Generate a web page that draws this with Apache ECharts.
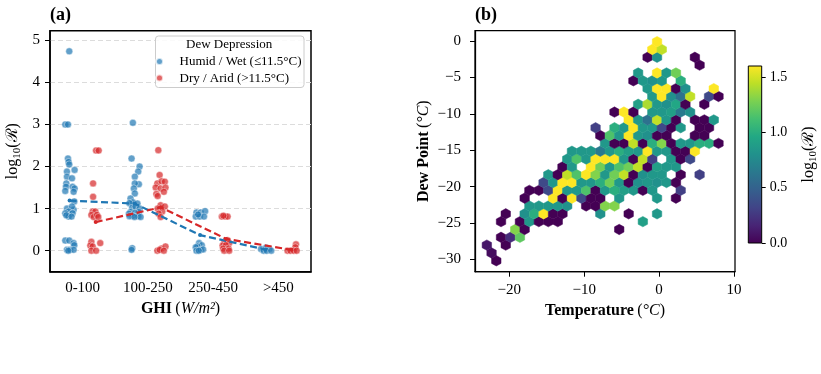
<!DOCTYPE html>
<html><head><meta charset="utf-8">
<script src="https://cdn.jsdelivr.net/npm/echarts@6/dist/echarts.min.js"></script>
<style>html,body{margin:0;padding:0;background:#fff}#c{width:821px;height:374px}</style>
</head><body><div id="c"></div>
<script>
// ---------- Panel (a): strip plot data ----------
const ghiCategories = ['0-100', '100-250', '250-450', '>450'];
const legendNames = ['Humid / Wet (\u226411.5\u00B0C)', 'Dry / Arid (>11.5\u00B0C)'];
// [position in category units (dodge + jitter), log10(R)]
const humidPoints = [
  [-0.205,4.74],[-0.266,3.0],[-0.225,3.0],[-0.225,2.19],[-0.215,2.11],[-0.205,2.05],
  [-0.24,1.88],[-0.123,1.92],[-0.24,1.76],[-0.163,1.72],[-0.25,1.6],[-0.255,1.52],
  [-0.154,1.52],[-0.123,1.48],[-0.266,1.42],[-0.138,1.4],[-0.128,1.17],[-0.138,0.97],
  [-0.24,1.0],[-0.163,1.05],[-0.215,0.93],[-0.266,0.89],[-0.154,0.89],[-0.215,0.81],
  [-0.25,0.84],[-0.17,0.81],[-0.266,0.24],[-0.205,0.24],[-0.138,0.18],[-0.128,0.13],
  [-0.24,0.02],[-0.19,0.02],[-0.138,0.02],[-0.22,0.0],
  [0.77,3.04],[0.75,2.19],[0.873,2.0],[0.852,1.88],[0.8,1.76],[0.862,1.58],[0.8,1.6],
  [0.785,1.48],[0.8,1.36],[0.734,1.24],[0.77,1.15],[0.718,1.13],[0.84,1.12],[0.76,1.02],
  [0.81,1.05],[0.873,1.0],[0.734,0.92],[0.862,0.92],[0.8,0.9],[0.71,0.88],[0.765,0.83],
  [0.852,0.82],[0.718,0.82],[0.888,0.8],[0.795,0.8],[0.76,0.06],[0.75,0.02],
  [1.745,0.91],[1.81,0.91],[1.877,0.94],[1.734,0.81],[1.795,0.81],[1.86,0.81],[1.77,0.86],
  [1.785,0.18],[1.826,0.13],[1.76,0.1],[1.734,0.08],[1.745,0.0],[1.81,0.02],[1.846,0.03],[1.78,0.0],
  [2.734,0.04],[2.81,0.07],[2.862,0.04],[2.775,0.0],[2.82,0.0],[2.89,0.0]
];
const dryPoints = [
  [0.206,2.38],[0.246,2.38],[0.16,1.6],[0.16,1.28],[0.154,0.93],[0.195,0.93],[0.134,0.85],
  [0.17,0.8],[0.22,0.85],[0.24,0.8],[0.134,0.21],[0.27,0.18],[0.118,0.12],[0.154,0.1],
  [0.134,0.0],[0.206,0.0],
  [1.16,2.39],[1.18,1.8],[1.145,1.6],[1.21,1.65],[1.26,1.64],[1.12,1.5],[1.195,1.48],
  [1.27,1.5],[1.13,1.35],[1.245,1.4],[1.15,1.3],[1.195,1.08],[1.26,1.05],[1.15,1.0],
  [1.22,0.93],[1.165,0.88],[1.195,0.8],[1.145,0.0],[1.21,0.05],[1.27,0.1],[1.18,0.02],[1.245,0.0],
  [2.134,0.81],[2.185,0.81],[2.222,0.81],[2.157,0.83],[2.222,0.25],[2.17,0.18],[2.246,0.18],
  [2.145,0.12],[2.195,0.13],[2.154,0.05],[2.237,0.05],[2.17,0.0],[2.246,0.0],
  [3.27,0.15],[3.26,0.08],[3.14,0.0],[3.185,0.0],[3.236,0.0],[3.28,0.0]
];
const humidMean = [[-0.2,1.19],[0.8,1.12],[1.8,0.37],[2.8,0.03]];
const dryMean = [[0.2,0.68],[1.2,1.03],[2.2,0.28],[3.2,0.02]];
const leftYTicks = [0,1,2,3,4,5];

// ---------- Panel (b): hexbin data ----------
const tempTicks = [-20,-10,0,10];
const dewTicks = [-30,-25,-20,-15,-10,-5,0];
const cbarTicks = [0,0.5,1.0,1.5];
const hexOrigin = [-22.99, -30.2];   // lattice origin (Temperature, Dew Point)
const hexCell = [1.262, 2.151];      // hexbin cell size sx, sy (gridsize 25)
// [half-column index, half-row index, log10(R)]
const hexBins = [
  [2,0,0],[1,1,0.05],[0,2,0.1],[4,2,0],[3,3,0],[5,3,0.2],[7,3,1.2],
  [6,4,1.3],[8,4,0],[28,4,0],
  [3,5,0],[7,5,0],[9,5,0.85],[11,5,0],[13,5,0],[15,5,0],[33,5,0.9],
  [4,6,0],[8,6,0.8],[10,6,1.0],[12,6,1.6],[14,6,0],[16,6,0],[24,6,0.8],[30,6,0],[36,6,0.85],
  [9,7,0.85],[11,7,0.85],[13,7,0.85],[15,7,0.85],[17,7,0.8],[21,7,0],[23,7,0],[25,7,1.3],[27,7,1.3],
  [8,8,0],[14,8,1.6],[16,8,0],[18,8,1.6],[20,8,0.35],[22,8,0],[24,8,0],[28,8,0.85],[36,8,0.85],[40,8,0],
  [9,9,0],[11,9,0],[13,9,0.35],[15,9,1.6],[17,9,0.85],[19,9,0.85],[21,9,1.15],[23,9,0],[25,9,0.85],
  [27,9,1.0],[29,9,0.9],[31,9,0.85],[33,9,0],[35,9,0.85],[41,9,0.3],
  [12,10,0.35],[14,10,0.85],[16,10,1.6],[18,10,1.6],[20,10,0.85],[22,10,0.85],[24,10,1.0],[26,10,1.25],
  [28,10,0.85],[30,10,0],[32,10,0.8],[34,10,0.85],[36,10,0.8],[38,10,0.85],[40,10,0],
  [13,11,0.85],[15,11,0],[17,11,1.45],[19,11,1.15],[21,11,1.6],[23,11,1.3],[25,11,0.85],[27,11,1.25],
  [29,11,1.45],[31,11,0],[33,11,0.8],[35,11,0.85],[37,11,0.85],[41,11,0],[45,11,0.3],
  [16,12,0],[18,12,0.85],[22,12,1.6],[24,12,1.25],[26,12,0.85],[28,12,1.15],[30,12,1.25],[32,12,1.45],
  [34,12,0],[36,12,0.9],[38,12,0.85],[40,12,0.85],
  [17,13,0.85],[19,13,1.15],[21,13,0.85],[23,13,1.6],[25,13,1.6],[27,13,1.6],[29,13,0.85],[31,13,0],
  [33,13,1.45],[35,13,0.3],[39,13,0.85],[41,13,0],[43,13,0.35],
  [18,14,0.85],[20,14,0.85],[22,14,0.85],[24,14,0.65],[26,14,0.85],[28,14,1.0],[30,14,0.9],[32,14,0.85],
  [34,14,1.6],[36,14,0.85],[38,14,0.85],[40,14,0],[42,14,0],[44,14,1.6],
  [25,15,0.85],[27,15,0],[29,15,0],[31,15,1.45],[33,15,0],[35,15,1.0],[37,15,1.3],[39,15,0],[41,15,0.85],
  [43,15,0.85],[45,15,1.0],[47,15,1.0],[49,15,0],
  [24,16,0],[26,16,1.15],[28,16,0.85],[30,16,1.6],[32,16,0.85],[34,16,0.8],[36,16,0],[38,16,0],[44,16,0],[46,16,0],
  [23,17,0.3],[27,17,1.0],[29,17,0.85],[31,17,1.6],[33,17,0.85],[35,17,0.85],[37,17,0.35],[39,17,0],
  [41,17,0.85],[45,17,0],[47,17,0],
  [30,18,1.6],[32,18,0.85],[34,18,0.6],[36,18,1.45],[38,18,0.85],[40,18,0],[44,18,0],[46,18,0],[48,18,0.85],
  [27,19,0],[29,19,1.6],[31,19,0],[35,19,0.85],[37,19,0.85],[39,19,0.9],[41,19,0.65],[43,19,0.8],
  [32,20,0.9],[34,20,1.4],[36,20,0.85],[38,20,0.8],[40,20,0.95],[42,20,0],[46,20,0],
  [35,21,0.85],[37,21,1.6],[39,21,0.8],[41,21,0.6],[43,21,1.45],[47,21,0.35],[49,21,0],
  [34,22,0.85],[36,22,1.6],[38,22,1.6],[40,22,0],[42,22,0.8],[48,22,1.6],
  [31,23,0],[33,23,0.85],[35,23,0.8],[37,23,0.85],[41,23,1.0],
  [32,24,0.85],[36,24,1.6],[38,24,0.85],[40,24,1.25],
  [45,25,0],[34,26,0],[36,26,0.8],[44,26,0],[35,27,1.6],[37,27,1.45],[36,28,1.6]
];
const viridis = ['#440154','#482475','#414487','#355f8d','#2a788e','#21918c','#22a884','#44bf70','#7ad151','#bddf26','#fde725'];

// ---------- Chart ----------
const SERIF = '"Liberation Serif","Times New Roman",Times,serif';
const chart = echarts.init(document.getElementById('c'), null, {renderer: 'canvas'});
const tickStyle = {color: '#000', width: 1};
const labelStyle = {fontFamily: SERIF, fontSize: 15, color: '#000'};
const logRich = {
  a: {fontFamily: SERIF, fontSize: 16, color: '#000', lineHeight: 20},
  s: {fontFamily: SERIF, fontSize: 11, color: '#000', lineHeight: 12, verticalAlign: 'bottom'}
};
const nameRich = {
  b: {fontFamily: SERIF, fontSize: 16, fontWeight: 'bold', color: '#000'},
  n: {fontFamily: SERIF, fontSize: 16, color: '#000'},
  i: {fontFamily: SERIF, fontSize: 16, fontStyle: 'italic', color: '#000'}
};

const hexData = hexBins.map(b => [hexOrigin[0] + b[0] * hexCell[0] / 2, hexOrigin[1] + b[1] * hexCell[1] / 2, b[2]]);

const option = {
  animation: false,
  backgroundColor: '#fff',
  title: [
    {text: '(a)', left: 50, top: 6, padding: 0, textStyle: {fontFamily: SERIF, fontSize: 18, fontWeight: 'bold', color: '#000'}},
    {text: '(b)', left: 475, top: 6, padding: 0, textStyle: {fontFamily: SERIF, fontSize: 18, fontWeight: 'bold', color: '#000'}}
  ],
  grid: [
    {left: 50, top: 30.7, width: 261, height: 241, show: true, borderColor: '#000', borderWidth: 1.5, backgroundColor: 'transparent'},
    {left: 475, top: 30.7, width: 260, height: 241, show: true, borderColor: '#000', borderWidth: 1.25, backgroundColor: 'transparent'},
    {left: 748.3, top: 66, width: 13.4, height: 177, show: false}
  ],
  xAxis: [
    {type: 'category', gridIndex: 0, data: ghiCategories, boundaryGap: true,
     axisLine: {onZero: false, lineStyle: {color: '#000', width: 1.5}},
     axisTick: {alignWithLabel: true, length: 5, lineStyle: tickStyle},
     axisLabel: Object.assign({margin: 9, interval: 0}, labelStyle),
     splitLine: {show: false},
     name: '{b|GHI} {n|(}{i|W/m\u00B2}{n|)}', nameLocation: 'middle', nameGap: 27,
     nameTextStyle: {rich: nameRich}},
    {type: 'value', gridIndex: 0, min: -0.5, max: 3.5, show: false, axisLine: {onZero: false}},
    {type: 'value', gridIndex: 1, min: -24.57, max: 10.13,
     axisLine: {onZero: false, lineStyle: {color: '#000', width: 1.25}},
     axisTick: {length: 5, lineStyle: tickStyle, customValues: tempTicks},
     axisLabel: Object.assign({margin: 11, customValues: tempTicks, formatter: v => String(v).replace('-', '\u2212')}, labelStyle),
     splitLine: {show: false},
     name: '{b|Temperature} {n|(}{i|\u00B0C}{n|)}', nameLocation: 'middle', nameGap: 30,
     nameTextStyle: {rich: nameRich}},
    {type: 'value', gridIndex: 2, min: 0, max: 1, show: false, axisLine: {onZero: false}}
  ],
  yAxis: [
    {type: 'value', gridIndex: 0, min: -0.5, max: 5.23,
     axisLine: {onZero: false, lineStyle: {color: '#000', width: 1.5}},
     axisTick: {length: 5, lineStyle: tickStyle, customValues: leftYTicks},
     axisLabel: Object.assign({margin: 10, customValues: leftYTicks}, labelStyle),
     splitLine: {show: true, lineStyle: {type: [5, 3], color: '#dcdcdc', width: 1}},
     name: '{a|log}{s|10}{a|(\u211B)}', nameLocation: 'middle', nameGap: 27, nameRotate: 90,
     nameTextStyle: {rich: logRich}},
    {type: 'value', gridIndex: 1, min: -31.7, max: 1.42,
     axisLine: {onZero: false, lineStyle: {color: '#000', width: 1.25}},
     axisTick: {length: 5, lineStyle: tickStyle, customValues: dewTicks},
     axisLabel: Object.assign({margin: 14, customValues: dewTicks, formatter: v => String(v).replace('-', '\u2212')}, labelStyle),
     splitLine: {show: false},
     name: '{b|Dew Point} {n|(}{i|\u00B0C}{n|)}', nameLocation: 'middle', nameGap: 43, nameRotate: 90,
     nameTextStyle: {rich: nameRich}},
    {type: 'value', gridIndex: 2, min: 0, max: 1.6, position: 'right',
     axisLine: {show: false, onZero: false},
     axisTick: {show: true, length: 4, lineStyle: tickStyle, customValues: cbarTicks},
     axisLabel: Object.assign({margin: 8, customValues: cbarTicks, formatter: v => v.toFixed(1)}, labelStyle, {fontSize: 14}),
     splitLine: {show: false},
     name: '{a|log}{s|10}{a|(\u211B)}', nameLocation: 'middle', nameGap: 37, nameRotate: 90,
     nameTextStyle: {rich: logRich}}
  ],
  visualMap: {type: 'continuous', show: false, min: 0, max: 1.6, seriesIndex: 4, dimension: 2,
              inRange: {color: viridis}},
  legend: {
    orient: 'vertical', left: 155, top: 54.5, itemWidth: 30, itemHeight: 7, itemGap: 2.6,
    icon: 'circle', data: legendNames, padding: 0, z: 6,
    textStyle: {fontFamily: SERIF, fontSize: 13, color: '#000', lineHeight: 14}
  },
  graphic: [
    {type: 'rect', z: 5, shape: {x: 155.5, y: 36, width: 148.5, height: 51.5, r: 3},
     style: {fill: 'rgba(255,255,255,0.85)', stroke: '#cccccc', lineWidth: 1}},
    {type: 'text', z: 6, left: 186, top: 38, style: {text: 'Dew Depression', font: '13px ' + SERIF, fill: '#000'}}
  ],
  series: [
    {name: legendNames[0], type: 'scatter', xAxisIndex: 1, yAxisIndex: 0, data: humidPoints,
     symbolSize: 7, z: 3,
     itemStyle: {color: '#1f77b4', opacity: 0.7, borderColor: '#fff', borderWidth: 0.6}},
    {name: legendNames[1], type: 'scatter', xAxisIndex: 1, yAxisIndex: 0, data: dryPoints,
     symbolSize: 7, z: 3,
     itemStyle: {color: '#d62728', opacity: 0.7, borderColor: '#fff', borderWidth: 0.6}},
    {type: 'line', xAxisIndex: 1, yAxisIndex: 0, data: humidMean, z: 4,
     symbol: 'circle', symbolSize: 4, showSymbol: true,
     lineStyle: {color: '#1f77b4', width: 2.2, type: [7, 3.5]}, itemStyle: {color: '#1f77b4'}},
    {type: 'line', xAxisIndex: 1, yAxisIndex: 0, data: dryMean, z: 4,
     symbol: 'circle', symbolSize: 4, showSymbol: true,
     lineStyle: {color: '#d62728', width: 2.2, type: [7, 3.5]}, itemStyle: {color: '#d62728'}},
    {type: 'custom', xAxisIndex: 2, yAxisIndex: 1, data: hexData, encode: {x: 0, y: 1},
     clip: true,
     renderItem: function (params, api) {
       const x = api.value(0), y = api.value(1);
       const hw = hexCell[0] / 2, t = hexCell[1] / 3, s = hexCell[1] / 6;
       const pts = [[x + hw, y - s], [x + hw, y + s], [x, y + t], [x - hw, y + s], [x - hw, y - s], [x, y - t]]
         .map(p => api.coord(p));
       const col = api.visual('color');
       return {type: 'polygon', shape: {points: pts}, style: {fill: col, stroke: col, lineWidth: 0.5}};
     }},
    {type: 'custom', xAxisIndex: 3, yAxisIndex: 2, data: [[0, 0, 1, 1.6]], silent: true,
     renderItem: function (params, api) {
       const p0 = api.coord([api.value(0), api.value(1)]);
       const p1 = api.coord([api.value(2), api.value(3)]);
       const stops = viridis.map((c, i) => ({offset: i / (viridis.length - 1), color: c}));
       return {type: 'rect', shape: {x: p0[0], y: p1[1], width: p1[0] - p0[0], height: p0[1] - p1[1]},
               style: {fill: new echarts.graphic.LinearGradient(0, 1, 0, 0, stops), stroke: '#000', lineWidth: 1}};
     }}
  ]
};
chart.setOption(option);
</script>
</body></html>
